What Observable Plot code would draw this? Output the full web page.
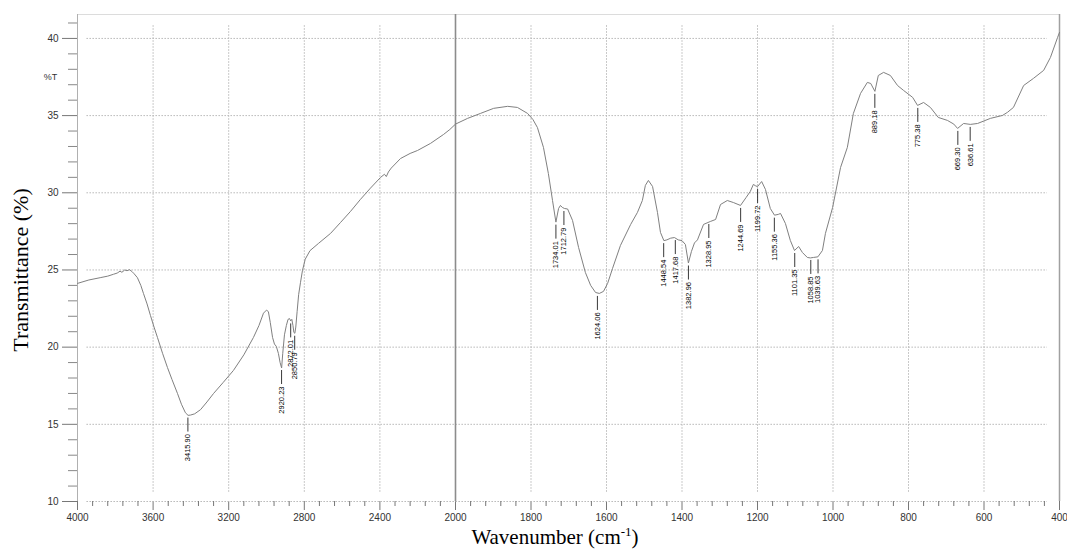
<!DOCTYPE html>
<html>
<head>
<meta charset="utf-8">
<script src="https://cdn.jsdelivr.net/npm/d3@7"></script>
<script src="https://cdn.jsdelivr.net/npm/@observablehq/plot@0.6"></script>
<style>
  body { margin: 0; background: #fff; }
  svg { display: block; }
</style>
</head>
<body>
<div id="chart"></div>
<script>
// ---- Spectrum (wavenumber in cm-1, transmittance in %) ----
const wavenumber = [
  4000, 3940, 3880, 3840, 3810, 3790, 3775, 3765, 3750, 3738, 3725, 3712, 3700, 3683, 3665, 3651,
  3632, 3614, 3595, 3577, 3550, 3524, 3500, 3471, 3450, 3429, 3415, 3402, 3380, 3349, 3315, 3280,
  3230, 3175, 3120, 3069, 3040, 3016, 3000, 2990, 2980, 2968, 2958, 2948, 2937, 2928, 2920, 2914,
  2905, 2895, 2886, 2878, 2872, 2866, 2860, 2855, 2850, 2845, 2838, 2830, 2820, 2810, 2795, 2770,
  2725, 2661, 2608, 2555, 2503, 2450, 2397, 2376, 2366, 2355, 2340, 2291, 2240, 2201, 2132, 2063,
  2030, 2000, 1968, 1934, 1899, 1862, 1836, 1809, 1795, 1783, 1767, 1754, 1743, 1734, 1727, 1722,
  1717, 1711, 1703, 1690, 1674, 1656, 1642, 1629, 1619, 1608, 1597, 1584, 1563, 1536, 1518, 1505,
  1497, 1489, 1478, 1465, 1457, 1448, 1440, 1430, 1420, 1410, 1400, 1391, 1383, 1375, 1367, 1359,
  1343, 1325, 1311, 1298, 1280, 1264, 1245, 1230, 1219, 1211, 1205, 1200, 1189, 1179, 1166, 1155,
  1145, 1139, 1126, 1113, 1102, 1091, 1081, 1068, 1060, 1052, 1040, 1028, 1020, 1001, 980, 962,
  946, 927, 909, 900, 889, 880, 866, 848, 829, 813, 789, 776, 760, 742, 721, 697,
  680, 670, 654, 636, 617, 583, 551, 538, 522, 495, 469, 442, 424, 405, 400
];
const transmittance = [
  24.13, 24.35, 24.5, 24.6, 24.72, 24.8, 24.92, 24.85, 25.0, 24.95, 25.02, 24.9, 24.75, 24.5, 24.0, 23.48,
  22.8, 22.05, 21.3, 20.63, 19.6, 18.68, 17.9, 17.0, 16.3, 15.75, 15.58, 15.6, 15.68, 15.95, 16.45, 17.0,
  17.7, 18.49, 19.5, 20.63, 21.4, 22.2, 22.4, 22.3, 21.6, 20.63, 20.2, 20.05, 19.59, 19.0, 18.65, 19.6,
  20.8, 21.4, 21.8, 21.85, 21.7, 21.8, 21.4, 20.95, 20.9, 21.3, 22.3, 23.4, 24.2, 24.95, 25.7, 26.25,
  26.72, 27.37, 28.08, 28.8, 29.57, 30.3, 30.99, 31.2, 31.05, 31.35, 31.6, 32.22, 32.55, 32.74, 33.2, 33.78,
  34.1, 34.45, 34.82, 35.14, 35.47, 35.6, 35.53, 35.14, 34.75, 34.23, 32.94, 31.25, 29.5, 28.1, 28.98, 29.18,
  29.05, 28.98, 28.95, 28.21, 26.46, 24.84, 24.0, 23.54, 23.48, 23.61, 24.13, 25.1, 26.59, 27.95, 28.73, 29.5,
  30.48, 30.8, 30.41, 28.73, 27.43, 26.9, 26.95, 27.06, 27.1, 26.95, 26.9, 26.65, 25.45, 26.2, 26.75, 26.95,
  27.95, 28.14, 28.27, 29.24, 29.5, 29.37, 29.18, 29.7, 30.09, 30.54, 30.45, 30.4, 30.73, 30.22, 28.98, 28.55,
  28.6, 28.66, 28.01, 26.91, 26.26, 26.52, 26.13, 25.81, 25.78, 25.81, 25.85, 26.26, 27.37, 29.05, 31.64, 32.94,
  35.14, 36.44, 37.15, 37.08, 36.57, 37.6, 37.8, 37.6, 36.95, 36.63, 36.18, 35.66, 35.85, 35.53, 34.88, 34.69,
  34.45, 34.17, 34.49, 34.43, 34.49, 34.82, 35.01, 35.21, 35.53, 36.95, 37.41, 37.93, 38.77, 40.07, 40.39
];

// ---- Peak annotations ----
const peakWavenumber = [3415.90, 2920.23, 2872.01, 2850.79, 1734.01, 1712.79, 1624.06, 1448.54, 1417.68, 1382.96,
  1328.95, 1244.69, 1199.72, 1155.36, 1101.35, 1058.85, 1039.63, 889.18, 775.38, 669.30, 636.61];
const peakLabel = ["3415.90", "2920.23", "2872.01", "2850.79", "1734.01", "1712.79", "1624.06", "1448.54", "1417.68", "1382.96",
  "1328.95", "1244.69", "1199.72", "1155.36", "1101.35", "1058.85", "1039.63", "889.18", "775.38", "669.30", "636.61"];
const peakT = [15.6, 18.68, 21.7, 20.9, 28.1, 28.98, 23.48, 26.9, 27.1, 25.45,
  28.14, 29.18, 30.41, 28.55, 26.26, 25.81, 25.85, 36.57, 35.66, 34.17, 34.43];

// ---- Axis ticks ----
const xTicks = [4000, 3600, 3200, 2800, 2400, 2000, 1800, 1600, 1400, 1200, 1000, 800, 600, 400];
const xGrid = [3600, 3200, 2800, 2400, 1800, 1600, 1400, 1200, 1000, 800, 600];
const yTicks = [10, 15, 20, 25, 30, 35, 40];

const xMinor = [
  ...d3.range(4000, 2000, -80).filter(v => v % 400 !== 0),
  ...d3.range(2000, 400, -40).filter(v => v % 200 !== 0)
];
const yMinor = d3.range(11, 42, 1).filter(v => v % 5 !== 0);

// ---- Layout ----
const W = 1067, H = 549;
const plotTop = 14, plotBottom = 501;
const yMin = 10, yMax = 41.55;
const pxPerUnit = (plotBottom - plotTop) / (yMax - yMin);

const spectrum = wavenumber.map((w, i) => ({w, t: transmittance[i]}));
const peaks = peakWavenumber.map((w, i) => ({w, t: peakT[i], label: peakLabel[i]}));

const sans = "'Liberation Sans', Arial, Helvetica, sans-serif";
const serif = "'Liberation Serif', 'Times New Roman', serif";
const gridColor = "#b8b8b8";

const chart = Plot.plot({
  width: W,
  height: H,
  marginLeft: 77,
  marginRight: 8,
  marginTop: plotTop,
  marginBottom: H - plotBottom,
  style: {fontFamily: sans, fontSize: "10px", color: "#333", background: "#fff"},
  x: {
    type: "linear",
    domain: [4000, 2000, 400],
    range: [77, 455, 1059],
    ticks: xTicks,
    tickFormat: d => String(d),
    tickSize: 9,
    tickPadding: 3,
    label: null
  },
  y: {
    domain: [yMin, yMax],
    ticks: yTicks,
    tickSize: 15,
    tickPadding: 4,
    label: null
  },
  marks: [
    // horizontal dotted grid
    Plot.ruleY(yTicks, {x1: 3950, x2: 432, stroke: gridColor, strokeDasharray: "1.5,1.5"}),
    // vertical dotted grid
    Plot.ruleX(xGrid, {y1: 10.6, y2: 40.9, stroke: gridColor, strokeDasharray: "1.5,1.5"}),
    // frame
    Plot.ruleY([yMax], {stroke: "#dcdcdc"}),
    Plot.ruleX([4000], {stroke: "#b0b0b0"}),
    Plot.ruleX([400], {stroke: "#a0a0a0", strokeWidth: 1.5}),
    // scale break line at 2000
    Plot.ruleX([2000], {stroke: "#8c8c8c", strokeWidth: 1.6}),
    // minor ticks
    Plot.ruleX(xMinor, {y1: yMin, y2: yMin - 5 / pxPerUnit, stroke: "#777"}),
    Plot.ruleY(yMinor, {x1: 4000, x2: 4000 + 9 / 0.189, stroke: "#888"}),
    // spectrum
    Plot.line(spectrum, {x: "w", y: "t", stroke: "#808080", strokeWidth: 1}),
    // peak markers
    Plot.ruleX(peaks, {x: "w", y1: d => d.t - 3 / pxPerUnit, y2: d => d.t - 17 / pxPerUnit, stroke: "#222", strokeWidth: 0.9}),
    Plot.text(peaks, {
      x: "w", y: d => d.t - 19 / pxPerUnit, text: "label",
      rotate: -90, textAnchor: "end", fontSize: 7.5, fill: "#000", fontFamily: sans
    }),
    // %T unit mark
    Plot.text(["%T"], {x: 4000, y: 37.47, dx: -27, text: d => d, fontSize: 9, fill: "#333", fontFamily: sans})
  ]
});

document.getElementById("chart").appendChild(chart);

// axis colours
const svg = d3.select(chart);
svg.selectAll('g[aria-label^="x-axis"] line, g[aria-label^="y-axis"] line').attr("stroke", "#777");
svg.selectAll('g[aria-label="x-axis tick"], g[aria-label="y-axis tick"]').attr("stroke", "#777");
svg.selectAll('g[aria-label^="x-axis"] text, g[aria-label^="y-axis"] text').attr("fill", "#333");

// axis titles
svg.append("text")
  .attr("transform", "translate(28,270) rotate(-90)")
  .attr("text-anchor", "middle")
  .attr("font-family", serif)
  .attr("font-size", 22)
  .attr("fill", "#000")
  .text("Transmittance (%)");

const xt = svg.append("text")
  .attr("x", 555)
  .attr("y", 544)
  .attr("text-anchor", "middle")
  .attr("font-family", serif)
  .attr("font-size", 21)
  .attr("fill", "#000");
xt.append("tspan").text("Wavenumber (cm");
xt.append("tspan").attr("dy", -8).attr("font-size", 13).text("-1");
xt.append("tspan").attr("dy", 8).text(")");
</script>
</body>
</html>
